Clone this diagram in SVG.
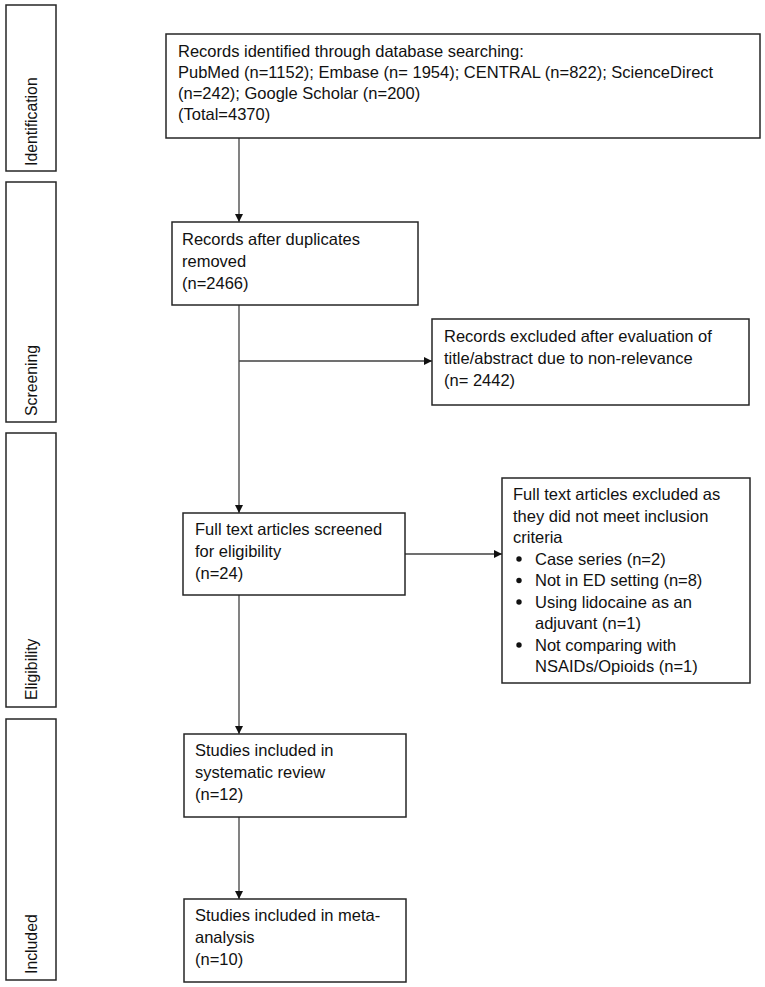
<svg xmlns="http://www.w3.org/2000/svg" width="765" height="987" viewBox="0 0 765 987">
<style>
  .box { fill: #ffffff; stroke: #262626; stroke-width: 1.5; }
  .t { font-family: "Liberation Sans", Arial, sans-serif; font-size: 16.5px; fill: #111111; }
  .side { font-family: "Liberation Sans", Arial, sans-serif; font-size: 15.8px; fill: #111111; }
  .conn { stroke: #404040; stroke-width: 1.3; fill: none; }
</style>
<defs>
  <marker id="arr" viewBox="0 0 10 10" refX="10" refY="5" markerWidth="8" markerHeight="8" markerUnits="userSpaceOnUse" orient="auto">
    <path d="M0,0 L10,5 L0,10 Z" fill="#111111"/>
  </marker>
</defs>
<rect width="765" height="987" fill="#ffffff"/>

<g id="phase-identification">
  <rect class="box" x="6" y="5" width="50" height="166"/>
  <text class="side" transform="translate(37,166) rotate(-90)">Identification</text>
</g>
<g id="phase-screening">
  <rect class="box" x="6" y="182" width="50" height="240"/>
  <text class="side" transform="translate(37,416) rotate(-90)">Screening</text>
</g>
<g id="phase-eligibility">
  <rect class="box" x="6" y="433" width="50" height="274"/>
  <text class="side" transform="translate(37,700) rotate(-90)">Eligibility</text>
</g>
<g id="phase-included">
  <rect class="box" x="6" y="719" width="50" height="261"/>
  <text class="side" transform="translate(37,974) rotate(-90)">Included</text>
</g>

<g id="connectors">
  <line class="conn" x1="239" y1="138" x2="239" y2="222" marker-end="url(#arr)"/>
  <line class="conn" x1="239" y1="305" x2="239" y2="513" marker-end="url(#arr)"/>
  <line class="conn" x1="239" y1="361" x2="432" y2="361" marker-end="url(#arr)"/>
  <line class="conn" x1="405" y1="554" x2="502" y2="554" marker-end="url(#arr)"/>
  <line class="conn" x1="239" y1="595" x2="239" y2="734" marker-end="url(#arr)"/>
  <line class="conn" x1="239" y1="817" x2="239" y2="899" marker-end="url(#arr)"/>
</g>

<g id="identified">
  <rect class="box" x="166" y="34" width="594" height="104"/>
  <text class="t" x="178" y="57">Records identified through database searching:</text>
  <text class="t" x="178" y="78">PubMed (n=1152); Embase (n= 1954); CENTRAL (n=822); ScienceDirect</text>
  <text class="t" x="178" y="99">(n=242); Google Scholar (n=200)</text>
  <text class="t" x="178" y="120">(Total=4370)</text>
</g>

<g id="after-duplicates">
  <rect class="box" x="172" y="222" width="246" height="83"/>
  <text class="t" x="182" y="245">Records after duplicates</text>
  <text class="t" x="182" y="267">removed</text>
  <text class="t" x="182" y="289">(n=2466)</text>
</g>

<g id="excluded-screening">
  <rect class="box" x="432" y="319" width="317" height="86"/>
  <text class="t" x="444" y="342">Records excluded after evaluation of</text>
  <text class="t" x="444" y="364">title/abstract due to non-relevance</text>
  <text class="t" x="444" y="386">(n= 2442)</text>
</g>

<g id="full-text">
  <rect class="box" x="183" y="513" width="222" height="82"/>
  <text class="t" x="195" y="535">Full text articles screened</text>
  <text class="t" x="195" y="557">for eligibility</text>
  <text class="t" x="195" y="579">(n=24)</text>
</g>

<g id="excluded-full-text">
  <rect class="box" x="502" y="478" width="248" height="205"/>
  <text class="t" x="513" y="500">Full text articles excluded as</text>
  <text class="t" x="513" y="521.5">they did not meet inclusion</text>
  <text class="t" x="513" y="543">criteria</text>
  <circle cx="519" cy="559" r="2.7" fill="#111111"/>
  <text class="t" x="535" y="564.5">Case series (n=2)</text>
  <circle cx="519" cy="580.5" r="2.7" fill="#111111"/>
  <text class="t" x="535" y="586">Not in ED setting (n=8)</text>
  <circle cx="519" cy="602" r="2.7" fill="#111111"/>
  <text class="t" x="535" y="607.5">Using lidocaine as an</text>
  <text class="t" x="535" y="629">adjuvant (n=1)</text>
  <circle cx="519" cy="645" r="2.7" fill="#111111"/>
  <text class="t" x="535" y="650.5">Not comparing with</text>
  <text class="t" x="535" y="672">NSAIDs/Opioids (n=1)</text>
</g>

<g id="systematic-review">
  <rect class="box" x="184" y="734" width="222" height="83"/>
  <text class="t" x="195" y="756">Studies included in</text>
  <text class="t" x="195" y="778">systematic review</text>
  <text class="t" x="195" y="800">(n=12)</text>
</g>

<g id="meta-analysis">
  <rect class="box" x="184" y="899" width="222" height="83"/>
  <text class="t" x="195" y="921">Studies included in meta-</text>
  <text class="t" x="195" y="943">analysis</text>
  <text class="t" x="195" y="965">(n=10)</text>
</g>
</svg>
